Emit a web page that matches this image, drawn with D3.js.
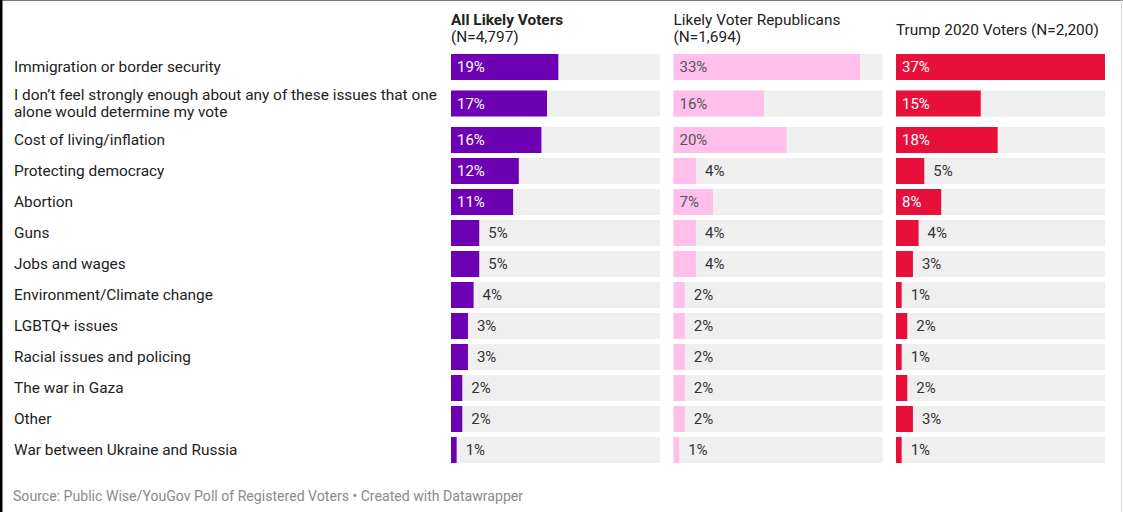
<!DOCTYPE html>
<html>
<head>
<meta charset="utf-8">
<script src="https://cdn.jsdelivr.net/npm/d3@7"></script>
<style>
  html, body { margin: 0; padding: 0; background: #fff; }
  svg { display: block; font-family: Roboto, "Noto Sans", sans-serif; }
</style>
</head>
<body>
<svg id="chart" width="1123" height="512"></svg>
<script>
// Issue categories (row order)
const categories = [
  "Immigration or border security",
  "I don\u2019t feel strongly enough about any of these issues that one alone would determine my vote",
  "Cost of living/inflation",
  "Protecting democracy",
  "Abortion",
  "Guns",
  "Jobs and wages",
  "Environment/Climate change",
  "LGBTQ+ issues",
  "Racial issues and policing",
  "The war in Gaza",
  "Other",
  "War between Ukraine and Russia"
];

// Share of respondents (%) naming each issue as most important
const allLikelyVoters = [19, 17, 16, 12, 11, 5, 5, 4, 3, 3, 2, 2, 1];
const likelyVoterRepublicans = [33, 16, 20, 4, 7, 4, 4, 2, 2, 2, 2, 2, 1];
const trump2020Voters = [37, 15, 18, 5, 8, 4, 3, 1, 2, 1, 2, 3, 1];

// Column headers
const columnTitles = ["All Likely Voters", "Likely Voter Republicans", "Trump 2020 Voters (N=2,200)"];
const columnSubtitles = ["(N=4,797)", "(N=1,694)", ""];

const sourceText = "Source: Public Wise/YouGov Poll of Registered Voters \u2022 Created with Datawrapper";

const svg = d3.select("#chart");
const W = 1123, H = 512;
const fs = 15.4;

// frame lines
svg.append("line").attr("x1", 0).attr("x2", W).attr("y1", 0.5).attr("y2", 0.5)
  .attr("stroke", "#777").attr("stroke-width", 1);
svg.append("line").attr("x1", 1.25).attr("x2", 1.25).attr("y1", 0).attr("y2", H)
  .attr("stroke", "#000").attr("stroke-width", 2.5);
svg.append("line").attr("x1", W - 1.5).attr("x2", W - 1.5).attr("y1", 0).attr("y2", H)
  .attr("stroke", "#ddd").attr("stroke-width", 1);

const barH = 26;
const gap = 5;
const wrapWidth = 432;
const labelX = 14;

const columns = [
  { title: columnTitles[0], sub: columnSubtitles[0], values: allLikelyVoters, color: "#6e00b3", inText: "#ffffff", bold: true },
  { title: columnTitles[1], sub: columnSubtitles[1], values: likelyVoterRepublicans, color: "#ffbfea", inText: "#555555", bold: false },
  { title: columnTitles[2], sub: columnSubtitles[2], values: trump2020Voters, color: "#e8103a", inText: "#ffffff", bold: false }
];

// column placement
const colX = d3.scalePoint().domain(d3.range(columns.length)).range([451, 896]);
const colW = 209;

// shared value scale across the three panels
const maxVal = d3.max(columns, c => d3.max(c.values));
const x = d3.scaleLinear().domain([0, maxVal]).range([0, colW]);

// measure row labels to find which ones wrap onto two lines
const measure = svg.append("text").attr("font-size", fs).attr("visibility", "hidden");
function wrapText(str) {
  const words = str.split(" ");
  const lines = [];
  let line = "";
  words.forEach(w => {
    const test = line ? line + " " + w : w;
    measure.text(test);
    if (measure.node().getComputedTextLength() > wrapWidth && line) {
      lines.push(line);
      line = w;
    } else line = test;
  });
  lines.push(line);
  return lines;
}
const wrapped = categories.map(wrapText);
measure.remove();

// row tops, with taller slots for wrapped labels
const slotH = wrapped.map(l => l.length > 1 ? barH + 11 : barH);
const tops = [];
let acc = 54;
slotH.forEach(h => { tops.push(acc); acc += h + gap; });
const y = d3.scaleOrdinal().domain(categories).range(tops);
const slot = d3.scaleOrdinal().domain(categories).range(slotH);

// row labels
svg.append("g").selectAll("text")
  .data(categories)
  .join("text")
  .attr("x", labelX)
  .attr("font-size", fs)
  .attr("fill", "#222")
  .each(function(d, i) {
    const lines = wrapped[i];
    const cy = y(d) + slot(d) / 2;
    const lh = 17;
    const start = cy - (lines.length - 1) * lh / 2;
    d3.select(this).selectAll("tspan")
      .data(lines)
      .join("tspan")
      .attr("x", labelX)
      .attr("y", (l, j) => start + j * lh)
      .attr("dy", "0.35em")
      .text(l => l);
  });

// panels
columns.forEach((col, ci) => {
  const g = svg.append("g").attr("transform", `translate(${colX(ci)},0)`);

  // header
  if (col.sub) {
    g.append("text").attr("x", 0).attr("y", 25).attr("font-size", fs)
      .attr("font-weight", col.bold ? 700 : 400).attr("fill", "#222").text(col.title);
    g.append("text").attr("x", 0).attr("y", 42).attr("font-size", fs)
      .attr("fill", "#222").text(col.sub);
  } else {
    g.append("text").attr("x", 0).attr("y", 35).attr("font-size", fs)
      .attr("font-weight", col.bold ? 700 : 400).attr("fill", "#222").text(col.title);
  }

  const rows = g.selectAll("g.row")
    .data(categories.map((c, i) => ({ cat: c, v: col.values[i] })))
    .join("g")
    .attr("class", "row")
    .attr("transform", d => `translate(0,${y(d.cat) + (slot(d.cat) - barH) / 2})`);

  // background track
  rows.append("rect")
    .attr("width", x(maxVal)).attr("height", barH)
    .attr("fill", "#efefef");

  // value bar
  rows.append("rect")
    .attr("width", d => x(d.v)).attr("height", barH)
    .attr("fill", col.color);

  // value label: inside when the bar has room, otherwise just past its end
  rows.append("text")
    .attr("font-size", 15)
    .attr("y", barH / 2)
    .attr("dy", "0.35em")
    .text(d => d.v + "%")
    .each(function(d) {
      const t = d3.select(this);
      const tw = this.getComputedTextLength();
      const inside = x(d.v) >= tw + 12;
      t.attr("x", inside ? 6 : x(d.v) + 9)
        .attr("fill", inside ? col.inText : "#333");
    });
});

// footer
svg.append("text")
  .attr("x", 13).attr("y", 501)
  .attr("font-size", 14.1)
  .attr("fill", "#8a8a8a")
  .text(sourceText);
</script>
</body>
</html>
